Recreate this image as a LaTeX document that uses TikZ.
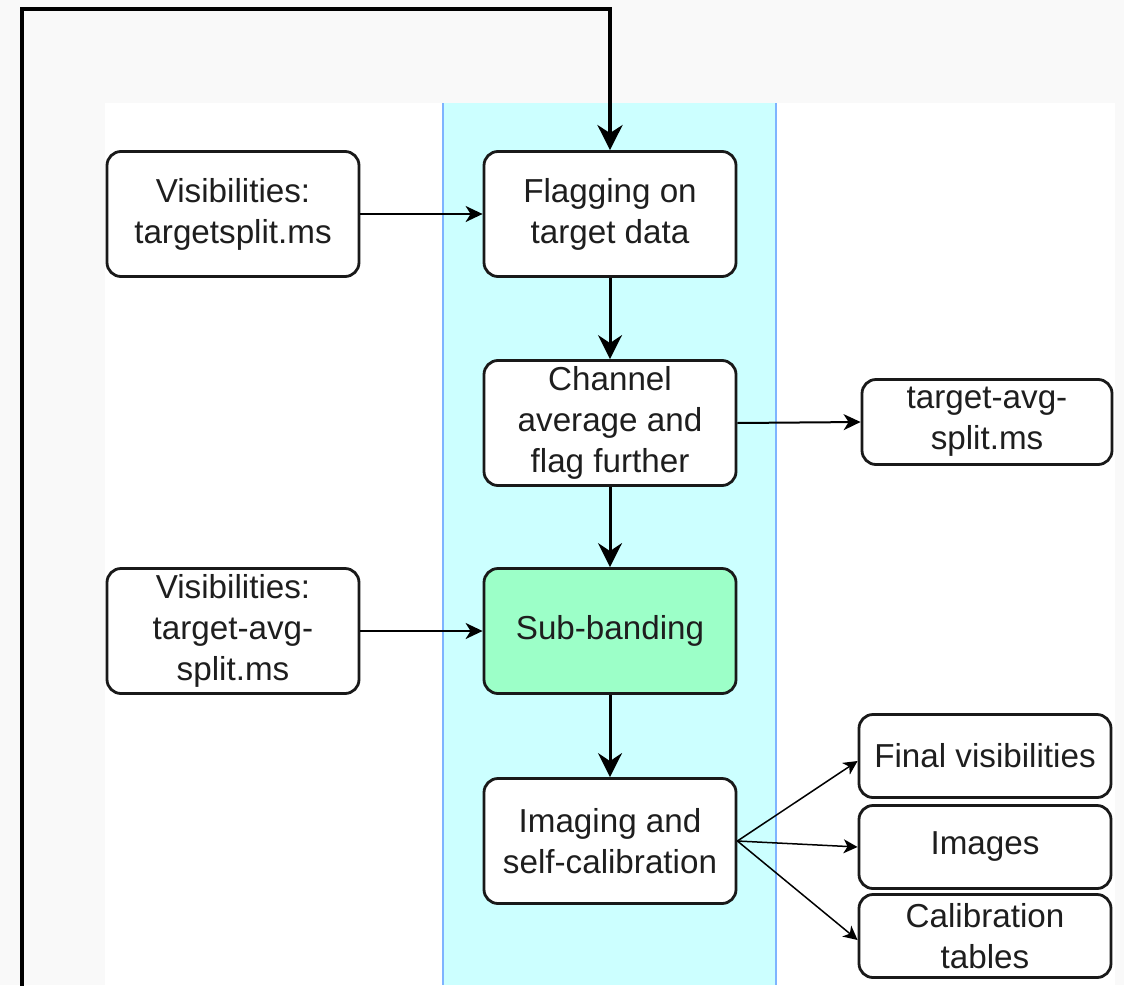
\documentclass[tikz,border=0pt]{standalone}
\usepackage{fontspec}
\setmainfont{Liberation Sans}
\usetikzlibrary{arrows.meta}
\definecolor{bandfill}{RGB}{204,255,255}
\definecolor{bandline}{RGB}{126,180,255}
\definecolor{subfill}{RGB}{156,255,200}
\definecolor{bggrey}{RGB}{249,249,249}
\definecolor{txt}{RGB}{30,30,30}
\tikzset{
  box/.style={draw=black!90, line width=2.8pt, rounded corners=14pt, fill=white,
    inner sep=0pt, align=center, text=txt,
    font=\fontsize{33.2}{41}\selectfont},
  bigbox/.style={box, minimum width=252pt, minimum height=125pt},
  outbox/.style={box, minimum width=252pt, minimum height=83pt},
  thickarrow/.style={line width=3pt, -{Stealth[length=24pt,width=24pt,inset=8pt]}},
  thinarrow/.style={line width=2pt, -{Stealth[length=17pt,width=16pt,inset=5pt]}},
  fanarrow/.style={line width=1.5pt, -{Stealth[length=14pt,width=14pt,inset=4pt]}},
  loopline/.style={line width=3.8pt, -{Stealth[length=25pt,width=25pt,inset=8pt]}}
}
\begin{document}
\begin{tikzpicture}[x=1pt,y=-1pt]
\useasboundingbox (0,0) rectangle (1124,985);
% background
\fill[bggrey] (0,0) rectangle (1124,985);
\fill[white] (105,103) rectangle (1115,985);
% cyan band
\fill[bandfill] (443,103) rectangle (776,985);
\draw[bandline, line width=1.2pt] (443,103) -- (443,985);
\draw[bandline, line width=1.2pt] (776,103) -- (776,985);

% nodes
\node[bigbox] (vis1) at (233,214) {Visibilities:\\targetsplit.ms};
\node[bigbox] (flag) at (610,214) {Flagging on\\target data};
\node[bigbox] (chan) at (610,423) {Channel\\average and\\flag further};
\node[box, minimum width=250pt, minimum height=85pt] (out1) at (987,422) {target-avg-\\split.ms};
\node[bigbox] (vis2) at (233,631) {Visibilities:\\target-avg-\\split.ms};
\node[bigbox, fill=subfill] (sub) at (610,631) {Sub-banding};
\node[bigbox] (img) at (610,841) {Imaging and\\self-calibration};
\node[outbox] (fv) at (985,756) {Final visibilities};
\node[outbox] (im) at (985,847) {Images};
\node[outbox] (ct) at (985,936) {Calibration\\tables};

% loop connector
\coordinate (loopstart) at (22,990);
\coordinate (loopcorner) at (22,9);
\draw[loopline] (loopstart) -- (loopcorner) -| (flag.north);

% connectors
\draw[thinarrow] (vis1) -- (flag);
\draw[thickarrow] (flag) -- (chan);
\draw[thinarrow] (chan.east) -- (out1.west);
\draw[thickarrow] (chan) -- (sub);
\draw[thinarrow] (vis2) -- (sub);
\draw[thickarrow] (sub) -- (img);
\draw[fanarrow] (img.east) -- ([yshift=-5pt]fv.west);
\draw[fanarrow] (img.east) -- (im.west);
\draw[fanarrow] (img.east) -- ([yshift=-4pt]ct.west);
\end{tikzpicture}
\end{document}
